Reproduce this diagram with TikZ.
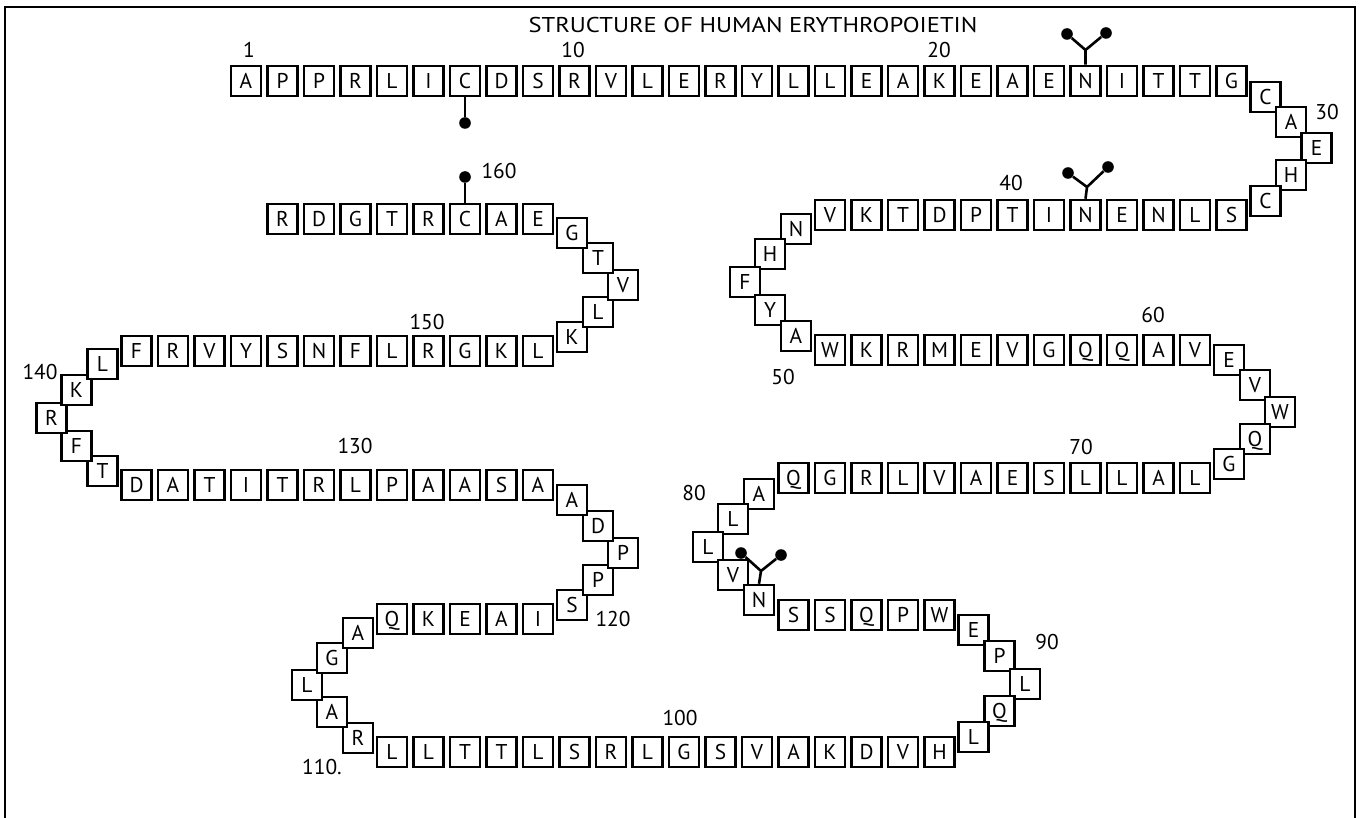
\documentclass[tikz,border=0pt]{standalone}
\usepackage{fontspec}
\setmainfont{PT Sans}
\newfontfamily\titlefont{PT Sans}[FakeStretch=1.15]
\usetikzlibrary{positioning,shadows}
\tikzset{
  resbox/.style={draw, fill=white, line width=1.25pt, minimum size=15pt,
    inner sep=0pt, text height=7.5pt, text depth=0pt,
    drop shadow={shadow xshift=0.5pt, shadow yshift=-0.5pt, opacity=1, fill=black},
    font=\fontsize{10.7}{12}\selectfont},
  numlabel/.style={inner sep=0pt, font=\fontsize{10.7}{12}\selectfont},
  pin/.style={line width=1.1pt},
  sugar/.style={line width=1.3pt},
  dot/.style={circle, fill=black, inner sep=0pt, minimum size=5.8pt}
}
\begin{document}
\begin{tikzpicture}[x=0.5pt, y=-0.5pt]
\useasboundingbox (0,0) rectangle (1360,818);
% frame, open at the bottom
\draw[line width=1pt] (5,818) -- (5,7) -- (1355,7) -- (1355,818);
\node[numlabel, font=\titlefont\fontsize{10.7}{12}\selectfont] (title) at (753,25)
  {STRUCTURE OF HUMAN ERYTHROPOIETIN};

% 1-28, left to right
\foreach \aa [count=\i from 1] in {A,P,P,R,L,I,C,D,S,R,V,L,E,R,Y,L,L,E,A,K,E,A,E,N,I,T,T,G}
  \node[resbox] (r\i) at ({246+(\i-1)*36.5},81) {\aa};
\foreach \aa/\x/\y [count=\i from 29] in {C/1265.5/97, A/1291/122, E/1316.5/148, H/1291/175, C/1265.5/201}
  \node[resbox] (r\i) at (\x,\y) {\aa};
% 34-45, right to left
\foreach \aa [count=\i from 34] in {S,L,N,E,N,I,T,P,D,T,K,V}
  \node[resbox] (r\i) at ({1231.5-(\i-34)*36.5},215) {\aa};
\foreach \aa/\x/\y [count=\i from 46] in {N/796/229, H/770/254, F/745/282, Y/770/310, A/796/336}
  \node[resbox] (r\i) at (\x,\y) {\aa};
% 51-61
\foreach \aa [count=\i from 51] in {W,K,R,M,E,V,G,Q,Q,A,V}
  \node[resbox] (r\i) at ({830+(\i-51)*36.5},350) {\aa};
\foreach \aa/\x/\y [count=\i from 62] in {E/1229/360, V/1255/385, W/1280/412, Q/1255/439, G/1229/464}
  \node[resbox] (r\i) at (\x,\y) {\aa};
% 67-78
\foreach \aa [count=\i from 67] in {L,A,L,L,S,E,A,V,L,R,G,Q}
  \node[resbox] (r\i) at ({1195-(\i-67)*36.5},478) {\aa};
\foreach \aa/\x/\y [count=\i from 79] in {A/759/494, L/733/519, L/708/547, V/733/575, N/759/600}
  \node[resbox] (r\i) at (\x,\y) {\aa};
% 84-88
\foreach \aa [count=\i from 84] in {S,S,Q,P,W}
  \node[resbox] (r\i) at ({793.5+(\i-84)*36.5},615) {\aa};
\foreach \aa/\x/\y [count=\i from 89] in {E/973.5/630, P/999.5/656, L/1025/684, Q/999.5/711, L/973.5/737}
  \node[resbox] (r\i) at (\x,\y) {\aa};
% 94-109, bottom row
\foreach \aa [count=\i from 94] in {H,V,D,K,A,V,S,G,L,R,S,L,T,T,L,L}
  \node[resbox] (r\i) at ({939.5-(\i-94)*36.5},752) {\aa};
\foreach \aa/\x/\y [count=\i from 110] in {R/358/738, A/332/712, L/307/685, G/332/658, A/358/633}
  \node[resbox] (r\i) at (\x,\y) {\aa};
% 115-119
\foreach \aa [count=\i from 115] in {Q,K,E,A,I}
  \node[resbox] (r\i) at ({392+(\i-115)*36.5},619) {\aa};
\foreach \aa/\x/\y [count=\i from 120] in {S/572/605, P/598/580, P/623/553, D/598/526, A/572/500}
  \node[resbox] (r\i) at (\x,\y) {\aa};
% 125-136
\foreach \aa [count=\i from 125] in {A,S,A,A,P,L,R,T,I,T,A,D}
  \node[resbox] (r\i) at ({538-(\i-125)*36.5},485) {\aa};
\foreach \aa/\x/\y [count=\i from 137] in {T/102.5/471, F/76.5/446, R/51.5/418, K/76.5/390, L/102.5/364}
  \node[resbox] (r\i) at (\x,\y) {\aa};
% 142-153
\foreach \aa [count=\i from 142] in {F,R,V,Y,S,N,F,L,R,G,K,L}
  \node[resbox] (r\i) at ({136.5+(\i-142)*36.5},351) {\aa};
\foreach \aa/\x/\y [count=\i from 154] in {K/572/337, L/598/312, V/623/285, T/598/258, G/572/233}
  \node[resbox] (r\i) at (\x,\y) {\aa};
% 159-166
\foreach \aa [count=\i from 159] in {E,A,C,R,T,G,D,R}
  \node[resbox] (r\i) at ({538-(\i-159)*36.5},219) {\aa};

% numbering
\foreach \num/\x/\y in {1/249/50, 10/573/50, 20/939/50, 30/1327/112, 40/1011/183,
    50/783/377, 60/1153/315, 70/1081/447, 80/694/493, 90/1047/642, 100/680/718,
    110./322/767, 120/613/619, 130/355/446, 140/40/372, 150/427/322, 160/499/171}
  \node[numlabel] (n\num) at (\x,\y) {\num};

% cysteine pins
\node[dot] (c7dot) at (465,123) {};
\draw[pin] (r7.south) -- (c7dot);
\node[dot] (c161dot) at (465,177) {};
\draw[pin] (r161.north) -- (c161dot);

% glycans
\coordinate (g24) at (1085.5,50);
\node[dot] (g24a) at (1067,34) {};
\node[dot] (g24b) at (1106,33) {};
\draw[sugar] (r24.north) -- (g24) -- (g24a) (g24) -- (g24b);
\coordinate (g38) at (1087,187);
\node[dot] (g38a) at (1068,173) {};
\node[dot] (g38b) at (1108,167) {};
\draw[sugar] (r38.north) -- (g38) -- (g38a) (g38) -- (g38b);
\coordinate (g83) at (761,571);
\node[dot] (g83a) at (741,553) {};
\node[dot] (g83b) at (781,555) {};
\draw[sugar] (r83.north) -- (g83) -- (g83a) (g83) -- (g83b);
\end{tikzpicture}
\end{document}
